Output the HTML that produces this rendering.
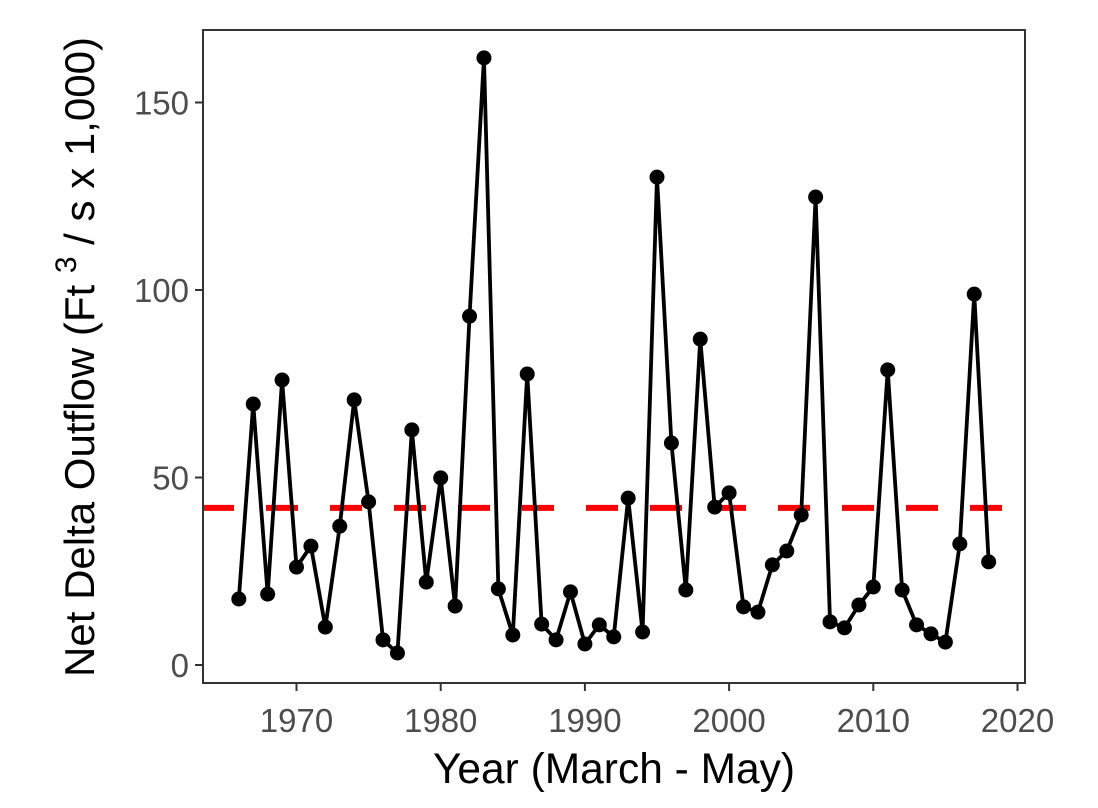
<!DOCTYPE html>
<html><head><meta charset="utf-8"><style>
body{margin:0;background:#fff}
svg text{font-family:"Liberation Sans",Arial,sans-serif}
</style></head><body>
<svg id="chart" width="1098" height="803" viewBox="0 0 1098 803">
<rect x="0" y="0" width="1098" height="803" fill="#fff"/>
<g id="plot"></g>
<rect x="203" y="30" width="822" height="653" fill="none" stroke="#333" stroke-width="2"/>
<text x="614" y="783" font-size="42.5" text-anchor="middle" fill="#000">Year (March - May)</text>
<text transform="translate(94,357) rotate(-90)" font-size="42" text-anchor="middle" fill="#000">Net Delta Outflow (Ft <tspan dy="-18" font-size="30">3</tspan><tspan dy="18"> / s x 1,000)</tspan></text>
</svg>
<script>
const years=[1966,1967,1968,1969,1970,1971,1972,1973,1974,1975,1976,1977,1978,1979,1980,1981,1982,1983,1984,1985,1986,1987,1988,1989,1990,1991,1992,1993,1994,1995,1996,1997,1998,1999,2000,2001,2002,2003,2004,2005,2006,2007,2008,2009,2010,2011,2012,2013,2014,2015,2016,2017,2018];
const outflow=[17.6,69.6,18.9,76,26.1,31.7,10.1,37,70.7,43.5,6.7,3.2,62.7,22.1,49.9,15.7,93,161.9,20.3,8,77.6,10.9,6.7,19.5,5.6,10.7,7.5,44.5,8.8,130.1,59.2,20,86.9,42.1,45.9,15.5,14.1,26.7,30.4,40,124.8,11.5,9.9,16,20.8,78.7,20,10.7,8.3,6.1,32.3,98.9,27.5];
const meanValue=41.9;
const xTicks=[1970,1980,1990,2000,2010,2020];
const yTicks=[0,50,100,150];
const NS="http://www.w3.org/2000/svg";
const sx=v=>296.5+(v-1970)*14.42;
const sy=v=>665-v*3.75;
const svg=document.getElementById('chart');
const g=document.getElementById('plot');
function mk(t,a){const e=document.createElementNS(NS,t);for(const k in a)e.setAttribute(k,a[k]);return e;}
xTicks.forEach(t=>{
 const l=mk('line',{x1:sx(t),x2:sx(t),y1:683,y2:691,stroke:'#333','stroke-width':2});
 
 
 svg.appendChild(l);
 const tx=mk('text',{x:sx(t),y:732,'font-size':33,'text-anchor':'middle',fill:'#4d4d4d'});
 tx.textContent=t;
 
 
 svg.appendChild(tx);
});
yTicks.forEach(t=>{
 const l=mk('line',{x1:195,x2:203,y1:sy(t),y2:sy(t),stroke:'#333','stroke-width':2});
 
 
 svg.appendChild(l);
 const tx=mk('text',{x:189,y:sy(t)+12,'font-size':33,'text-anchor':'end',fill:'#4d4d4d'});
 tx.textContent=t;
 
 
 svg.appendChild(tx);
});
const ml=mk('line',{x1:202,x2:1025,y1:sy(meanValue),y2:sy(meanValue),stroke:'#ff0000','stroke-width':6,'stroke-dasharray':'32 32'});


g.appendChild(ml);
const p=mk('polyline',{points:years.map((y,i)=>sx(y)+','+sy(outflow[i])).join(' '),fill:'none',stroke:'#000','stroke-width':3.8,'stroke-linejoin':'round'});


g.appendChild(p);
years.forEach((y,i)=>{
 const c=mk('circle',{cx:sx(y),cy:sy(outflow[i]),r:7.5,fill:'#000'});
 
 
 g.appendChild(c);
});
</script>
</body></html>
